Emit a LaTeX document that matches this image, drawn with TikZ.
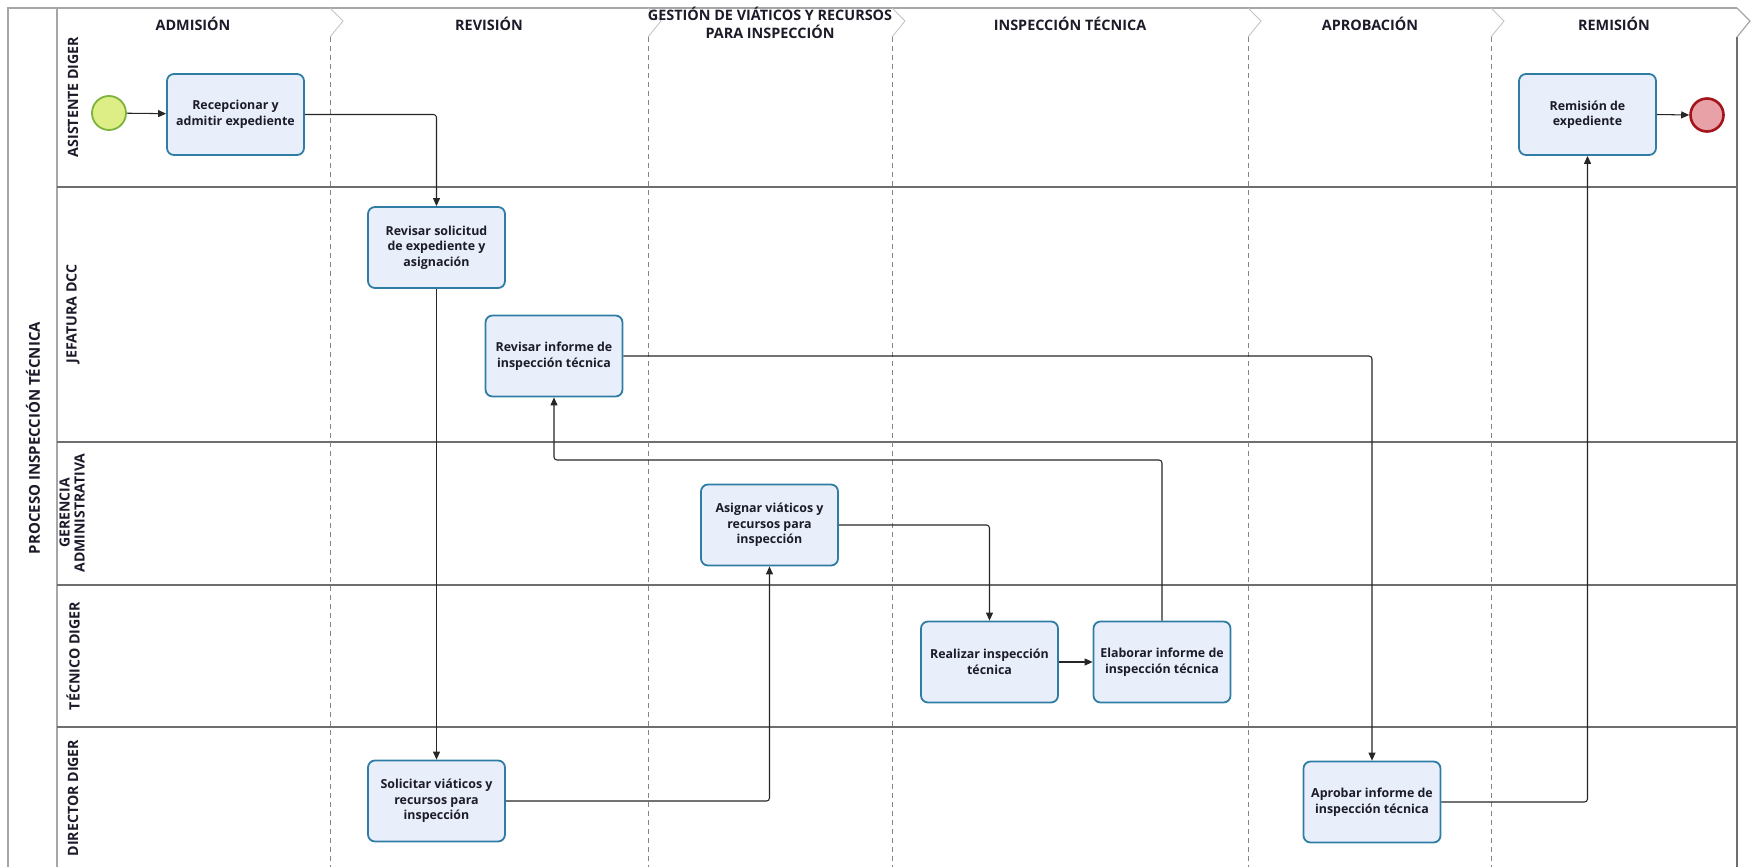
\documentclass[tikz,border=0pt]{standalone}
\usepackage{fontspec}
\setmainfont{Open Sans}
\usetikzlibrary{arrows.meta}

\definecolor{taskfill}{HTML}{E9EEFB}
\definecolor{taskline}{HTML}{2F7DA5}
\definecolor{startfill}{HTML}{DDEE86}
\definecolor{startline}{HTML}{7DB33A}
\definecolor{endfill}{HTML}{E8A1A6}
\definecolor{endline}{HTML}{A3141C}
\definecolor{poolline}{HTML}{A6A6A6}
\definecolor{laneline}{HTML}{6E6E6E}
\definecolor{phaseline}{HTML}{858585}
\definecolor{chevline}{HTML}{C4C4C4}
\definecolor{flowline}{HTML}{262626}
\definecolor{inktext}{HTML}{1B1B2A}

\begin{document}
\begin{tikzpicture}[x=1pt,y=-1pt,
  task/.style={draw=taskline, fill=taskfill, line width=1.8pt, rounded corners=7pt,
    minimum width=137pt, minimum height=81pt, align=center, text=inktext,
    font=\fontsize{12.4}{15.5}\selectfont\bfseries, inner sep=2pt},
  startev/.style={circle, draw=startline, fill=startfill, line width=1.8pt, minimum size=34pt, inner sep=0pt},
  endev/.style={circle, draw=endline, fill=endfill, line width=2.6pt, minimum size=33pt, inner sep=0pt},
  flow/.style={draw=flowline, line width=1.05pt, rounded corners=3pt,
    -{Triangle[length=8pt,width=7pt]}},
  phasetitle/.style={font=\fontsize{14.4}{17}\selectfont\bfseries, text=inktext, align=center, inner sep=0pt},
  lanetitle/.style={font=\fontsize{14.2}{16}\selectfont\bfseries, text=inktext, rotate=90, align=center, inner sep=0pt},
  sepdash/.style={draw=phaseline, line width=0.8pt, dash pattern=on 5pt off 4pt},
  chevron/.style={draw=chevline, line width=0.9pt},
]
\useasboundingbox (0,0) rectangle (1751,867);

% ---- pool frame ----
\draw[poolline, line width=1.8pt] (8,867) -- (8,8) -- (1737,8);
\draw[poolline, line width=1.4pt] (57,8) -- (57,867);
\draw[laneline, line width=1.2pt] (1737,37) -- (1737,867);
\draw[chevron, draw=poolline, line width=1.2pt] (1737,8) -- (1750,21) -- (1737,37);

% ---- lane separators ----
\foreach \ly in {187,442,585,727}
  \draw[laneline, line width=1.1pt] (57,\ly) -- (1737,\ly);

% ---- phase separators with header chevrons ----
\foreach \px in {330,648,892,1248,1491} {
  \draw[chevron] (\px,8) -- (\px+13,21) -- (\px,37);
  \draw[sepdash] (\px,37) -- (\px,867);
}

% ---- phase titles ----
\node[phasetitle] (phAdm) at (193,24) {ADMISIÓN};
\node[phasetitle] (phRev) at (489,24) {REVISIÓN};
\node[phasetitle, font=\fontsize{14.4}{17.5}\selectfont\bfseries] (phGes) at (770,23) {GESTIÓN DE VIÁTICOS Y RECURSOS\\PARA INSPECCIÓN};
\node[phasetitle] (phIns) at (1070,24) {INSPECCIÓN TÉCNICA};
\node[phasetitle] (phApr) at (1370,24) {APROBACIÓN};
\node[phasetitle] (phRem) at (1614,24) {REMISIÓN};

% ---- pool and lane titles ----
\node[lanetitle, font=\fontsize{15}{17}\selectfont\bfseries] (pool) at (33,438) {PROCESO INSPECCIÓN TÉCNICA};
\node[lanetitle] (lnAsis) at (73,97) {ASISTENTE DIGER};
\node[lanetitle] (lnJef) at (73,314) {JEFATURA DCC};
\node[lanetitle, font=\fontsize{14}{15}\selectfont\bfseries] (lnGer) at (72,513) {GERENCIA\\ADMINISTRATIVA};
\node[lanetitle] (lnTec) at (73,656) {TÉCNICO DIGER};
\node[lanetitle] (lnDir) at (73,798) {DIRECTOR DIGER};

% ---- events ----
\node[startev] (start) at (109,113) {};
\node[endev] (finish) at (1707,115) {};

% ---- tasks ----
\node[task] (recep)  at (235.5,114.5) {Recepcionar y\\admitir expediente};
\node[task] (remis)  at (1587.5,114.5) {Remisión de\\expediente};
\node[task] (revsol) at (436.5,247.5) {Revisar solicitud\\de expediente y\\asignación};
\node[task] (revinf) at (554,356) {Revisar informe de\\inspección técnica};
\node[task] (asign)  at (769.5,525) {Asignar viáticos y\\recursos para\\inspección};
\node[task] (realiz) at (989.5,662) {Realizar inspección\\técnica};
\node[task] (elab)   at (1162,662) {Elaborar informe de\\inspección técnica};
\node[task] (solic)  at (436.5,801) {Solicitar viáticos y\\recursos para\\inspección};
\node[task] (aprob)  at (1372,802) {Aprobar informe de\\inspección técnica};

% ---- sequence flows ----
\coordinate (backY) at (0,460);
\draw[flow] (start) -- (recep);
\draw[flow] (recep.east) -| (revsol.north);
\draw[flow] (revsol.south) -- (solic.north);
\draw[flow] (solic.east) -| (asign.south);
\draw[flow] (asign.east) -| (realiz.north);
\draw[flow] (realiz.east) -- (elab.west);
\draw[flow] (elab.north) |- (backY -| revinf.south) -- (revinf.south);
\draw[flow] (revinf.east) -| (aprob.north);
\draw[flow] (aprob.east) -| (remis.south);
\draw[flow] (remis.east) -- (finish.west);

\end{tikzpicture}
\end{document}
